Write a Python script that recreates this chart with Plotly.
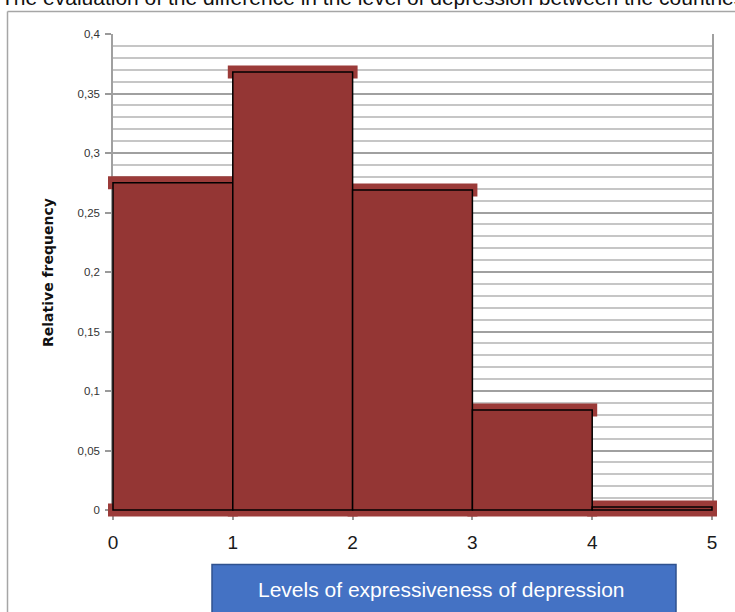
import plotly.graph_objects as go

# Relative frequency histogram of depression expressiveness levels
bin_left = [0, 1, 2, 3, 4]
bin_width = [1, 1, 1, 1, 1]
rel_freq = [0.275, 0.368, 0.269, 0.084, 0.0025]

x_tick_vals = [0, 1, 2, 3, 4, 5]
x_tick_text = ["0", "1", "2", "3", "4", "5"]
y_tick_vals = [0, 0.05, 0.1, 0.15, 0.2, 0.25, 0.3, 0.35, 0.4]
y_tick_text = ["0", "0,05", "0,1", "0,15", "0,2", "0,25", "0,3", "0,35", "0,4"]

x_title = "Levels of expressiveness of depression"
y_title = "Relative frequency"
top_text = "The evaluation of the difference in the level of depression between the countries"

W, H = 735, 612


def px(x):
    return x / W


def py(y):
    return 1 - y / H


X_RANGE = [0, 5]
Y_RANGE = [0, 0.4]
xdom = [px(113), px(712)]
ydom = [py(510), py(34)]


def spread(rng, dom):
    # range of a full-page axis that lines up with an axis living on `dom`
    u = (rng[1] - rng[0]) / (dom[1] - dom[0])
    return [rng[0] - dom[0] * u, rng[1] + (1 - dom[1]) * u]


centers = [l + w / 2 for l, w in zip(bin_left, bin_width)]
SHADOW = "#9b3b39"

fig = go.Figure()

# keeps the gridded axes alive
fig.add_trace(go.Scatter(x=[None], y=[None], xaxis="x", yaxis="y",
                         showlegend=False, hoverinfo="skip"))

# the histogram bars (on a full-page, unclipped subplot aligned with the grid)
fig.add_trace(go.Bar(x=centers, y=rel_freq, width=bin_width, xaxis="x2", yaxis="y2",
                     marker=dict(color="#943634", line=dict(color="#000000", width=1.5))))

# thick shadow bands along the top and bottom edge of each bar
shadow_shapes = []
for left, w, v in zip(bin_left, bin_width, rel_freq):
    for level in (v, Y_RANGE[0]):
        shadow_shapes.append(dict(
            type="rect", xref="x2", yref="y2", layer="below",
            x0=left, x1=left + w,
            ysizemode="pixel", yanchor=level, y0=-1.5, y1=1.5,
            fillcolor=SHADOW, line=dict(color=SHADOW, width=10),
        ))

frame_shapes = [
    # outer chart frame
    dict(type="line", xref="paper", yref="paper",
         x0=px(7.5), x1=px(7.5), y0=py(11.5), y1=py(620),
         line=dict(color="#a6a6a6", width=1.5)),
    dict(type="line", xref="paper", yref="paper",
         x0=px(7.5), x1=px(740), y0=py(11.5), y1=py(11.5),
         line=dict(color="#a6a6a6", width=1.5)),
    # x-axis caption box
    dict(type="rect", xref="paper", yref="paper",
         x0=px(212), x1=px(676), y0=py(625), y1=py(564.5),
         fillcolor="#4472C4", line=dict(color="#2F528F", width=1.5)),
]

fig.update_layout(
    template="none",
    width=W, height=H,
    margin=dict(l=0, r=0, t=0, b=0, pad=0, autoexpand=False),
    paper_bgcolor="white",
    plot_bgcolor="rgba(0,0,0,0)",
    barmode="overlay",
    showlegend=False,
    xaxis=dict(
        domain=xdom, range=X_RANGE, anchor="y", automargin=False,
        tickmode="array", tickvals=x_tick_vals, ticktext=x_tick_text,
        ticks="outside", ticklen=9, tickcolor="#9a9a9a", tickwidth=1.5,
        ticklabelstandoff=6,
        showgrid=False, zeroline=False, showline=False,
        tickfont=dict(family="Liberation Sans", size=19, color="#1a1a1a"),
    ),
    yaxis=dict(
        domain=ydom, range=Y_RANGE, anchor="x", automargin=False,
        tickmode="array", tickvals=y_tick_vals, ticktext=y_tick_text,
        ticks="outside", ticklen=6, tickcolor="#9a9a9a", tickwidth=1.5,
        ticklabelstandoff=3,
        showgrid=True, gridcolor="#a0a0a0", gridwidth=1.5,
        minor=dict(tickmode="linear", tick0=0, dtick=0.01, showgrid=True,
                   gridcolor="#c6c6c6", gridwidth=1.5, ticks=""),
        showline=True, linecolor="#a0a0a0", linewidth=1.5, mirror=True,
        zeroline=False,
        tickfont=dict(family="Liberation Sans", size=11.5, color="#333333"),
    ),
    xaxis2=dict(domain=[0, 1], range=spread(X_RANGE, xdom), anchor="y2",
                visible=False, automargin=False),
    yaxis2=dict(domain=[0, 1], range=spread(Y_RANGE, ydom), anchor="x2",
                visible=False, automargin=False),
    shapes=shadow_shapes + frame_shapes,
    annotations=[
        dict(text=x_title, xref="paper", yref="paper", x=px(442), y=py(589),
             xanchor="center", yanchor="middle", showarrow=False,
             font=dict(family="Liberation Sans", size=21, color="white")),
        dict(text=y_title, xref="paper", yref="paper", x=px(48), y=py(273),
             xanchor="center", yanchor="middle", showarrow=False, textangle=-90,
             font=dict(family="DejaVu Sans", size=14, color="#111111", weight="bold")),
        dict(text=top_text, xref="paper", yref="paper", x=px(-1), y=py(10.5),
             xanchor="left", yanchor="bottom", showarrow=False,
             font=dict(family="Liberation Sans", size=21, color="#111111")),
    ],
)

fig.write_html("out.html")
